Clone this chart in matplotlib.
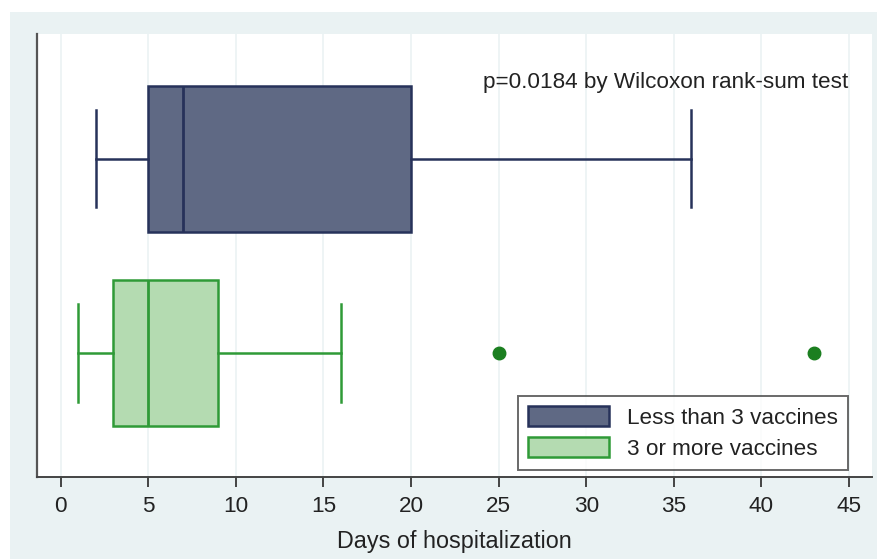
import matplotlib
matplotlib.use("Agg")
import matplotlib.pyplot as plt
from matplotlib.patches import Rectangle, Patch

groups = ["Less than 3 vaccines", "3 or more vaccines"]
q1 = [5, 3]
med = [7, 5]
q3 = [20, 9]
whislo = [2, 1]
whishi = [36, 16]
fliers = [[], [25, 43]]
positions = [2, 1]
xticks = [0, 5, 10, 15, 20, 25, 30, 35, 40, 45]
note = "p=0.0184 by Wilcoxon rank-sum test"
xlabel = "Days of hospitalization"

fills = ["#5f6984", "#b4dbb1"]
edges = ["#27325a", "#2f9a37"]
flier_color = "#1b7f20"
bg = "#eaf2f3"
text_color = "#222222"

plt.rcParams['font.family'] = ['Liberation Sans', 'DejaVu Sans']

fig = plt.figure(figsize=(8.78, 5.59), dpi=100, facecolor="white")
fig.patches.append(Rectangle((10/878, 0), 1 - 10/878, (559-12)/559,
                             transform=fig.transFigure, facecolor=bg,
                             edgecolor="none", zorder=-10))
ax = fig.add_axes([37/878, (559-477)/559, (872-37)/878, (477-34)/559])
ax.set_facecolor("white")

for i in range(len(groups)):
    stats = [dict(med=med[i], q1=q1[i], q3=q3[i], whislo=whislo[i],
                  whishi=whishi[i], fliers=fliers[i], label=groups[i])]
    ax.bxp(stats, positions=[positions[i]], widths=0.75, vert=False,
           patch_artist=True, capwidths=[0.5],
           boxprops=dict(facecolor=fills[i], edgecolor=edges[i], linewidth=1.8),
           medianprops=dict(color=edges[i], linewidth=2.0),
           whiskerprops=dict(color=edges[i], linewidth=1.8),
           capprops=dict(color=edges[i], linewidth=1.8),
           flierprops=dict(marker="o", markersize=9, markerfacecolor=flier_color,
                           markeredgecolor=flier_color))

ax.set_xlim(-1.353, 46.31)
ax.set_ylim(0.361, 2.644)
ax.set_xticks(xticks)
ax.set_xticklabels([str(t) for t in xticks])
ax.set_yticks([])
ax.grid(axis="x", color="#edf3f4", linewidth=1.3, zorder=0)
ax.set_axisbelow(True)
for s in ["top", "right"]:
    ax.spines[s].set_visible(False)
ax.spines["left"].set_color("#555555")
ax.spines["left"].set_linewidth(1.6)
ax.spines["bottom"].set_color("#444444")
ax.spines["bottom"].set_linewidth(1.4)
ax.tick_params(axis="x", direction="out", length=7, width=1.4, color="#444444",
               labelsize=16.2, labelcolor=text_color, pad=7)
ax.set_xlabel(xlabel, fontsize=16.8, color=text_color, labelpad=9)

ax.text(0.9715, 0.89, note, transform=ax.transAxes, ha="right", va="center",
        fontsize=16.2, color=text_color)

handles = [Patch(facecolor=fills[i], edgecolor=edges[i], linewidth=1.8, label=groups[i])
           for i in range(len(groups))]
leg = ax.legend(handles=handles, loc="lower right", bbox_to_anchor=(0.9715, 0.016),
                fontsize=16.2, frameon=True, fancybox=False, handlelength=3.6,
                handleheight=1.0, handletextpad=0.8, borderpad=0.45,
                labelspacing=0.35, borderaxespad=0)
leg.get_frame().set_edgecolor("#444444")
leg.get_frame().set_linewidth(1.4)
for t in leg.get_texts():
    t.set_color(text_color)

fig.savefig("out.png", dpi=100, facecolor=fig.get_facecolor())
